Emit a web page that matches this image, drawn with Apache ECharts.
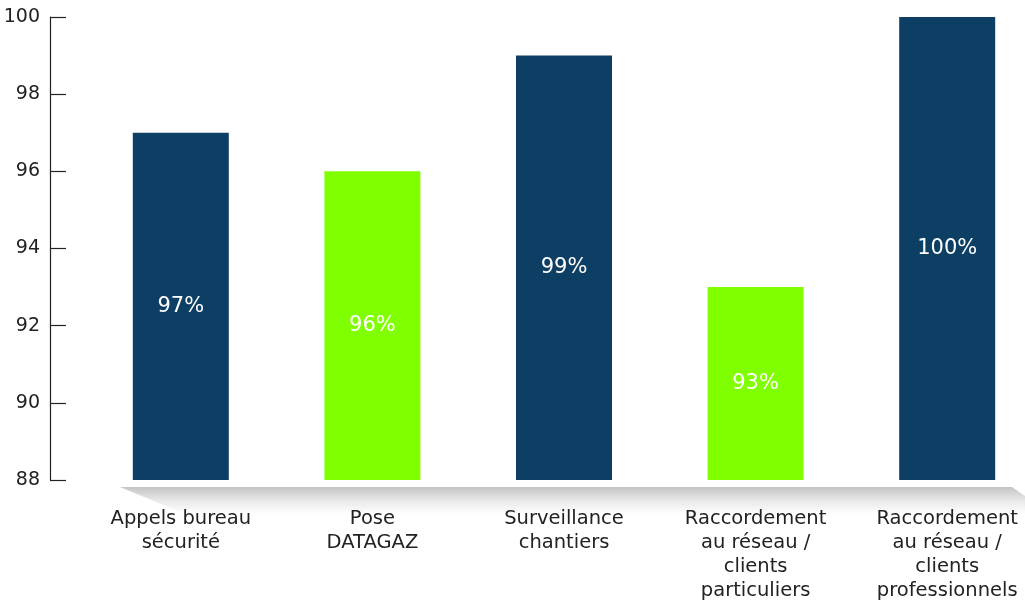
<!DOCTYPE html>
<html><head><meta charset="utf-8">
<script src="https://cdn.jsdelivr.net/npm/echarts@6/dist/echarts.min.js"></script>
<style>html,body{margin:0;padding:0;background:#fff}#c{width:1025px;height:600px}</style>
</head><body><div id="c"></div>
<script>
const categories = ["Appels bureau\nsécurité", "Pose\nDATAGAZ", "Surveillance\nchantiers", "Raccordement\nau réseau /\nclients\nparticuliers", "Raccordement\nau réseau /\nclients\nprofessionnels"];
const values = [97, 96, 99, 93, 100];
const colors = ["#0d3e63", "#80ff00", "#0d3e63", "#80ff00", "#0d3e63"];
const yTicks = {min: 88, max: 100, interval: 2};

const chart = echarts.init(document.getElementById('c'));
chart.setOption({
  animation: false,
  graphic: [{
    type: 'polygon', z: 0,
    shape: {points: [[120,487],[1012,487],[1025,496],[1025,514],[185,514]]},
    style: {fill: new echarts.graphic.LinearGradient(0,0,0,1,[{offset:0,color:'#c4c4c4'},{offset:0.5,color:'#e8e8e8'},{offset:1,color:'#ffffff'}])}
  }],
  grid: {left: 85, top: 17, width: 958, height: 463, containLabel: false, outerBoundsMode: 'none'},
  xAxis: {
    type: 'category', data: categories,
    axisLine: {show: false}, axisTick: {show: false},
    axisLabel: {margin: 27, fontFamily: 'DejaVu Sans', fontSize: 19.5, color: '#222', lineHeight: 24}
  },
  yAxis: {
    type: 'value', min: yTicks.min, max: yTicks.max, interval: yTicks.interval,
    offset: 35,
    splitLine: {show: false},
    axisLine: {show: true, lineStyle: {color: '#222', width: 1.2}},
    axisTick: {show: true, inside: true, length: 16, lineStyle: {color: '#222', width: 1.2}},
    axisLabel: {margin: 10, fontFamily: 'DejaVu Sans', fontSize: 19, color: '#222'}
  },
  series: [{
    type: 'bar', barWidth: 96,
    data: values.map((v, i) => ({value: v, itemStyle: {color: colors[i]}})),
    label: {show: true, position: 'inside', formatter: p => p.value + '%', color: '#fff', fontFamily: 'DejaVu Sans', fontSize: 21}
  }]
});
</script></body></html>
